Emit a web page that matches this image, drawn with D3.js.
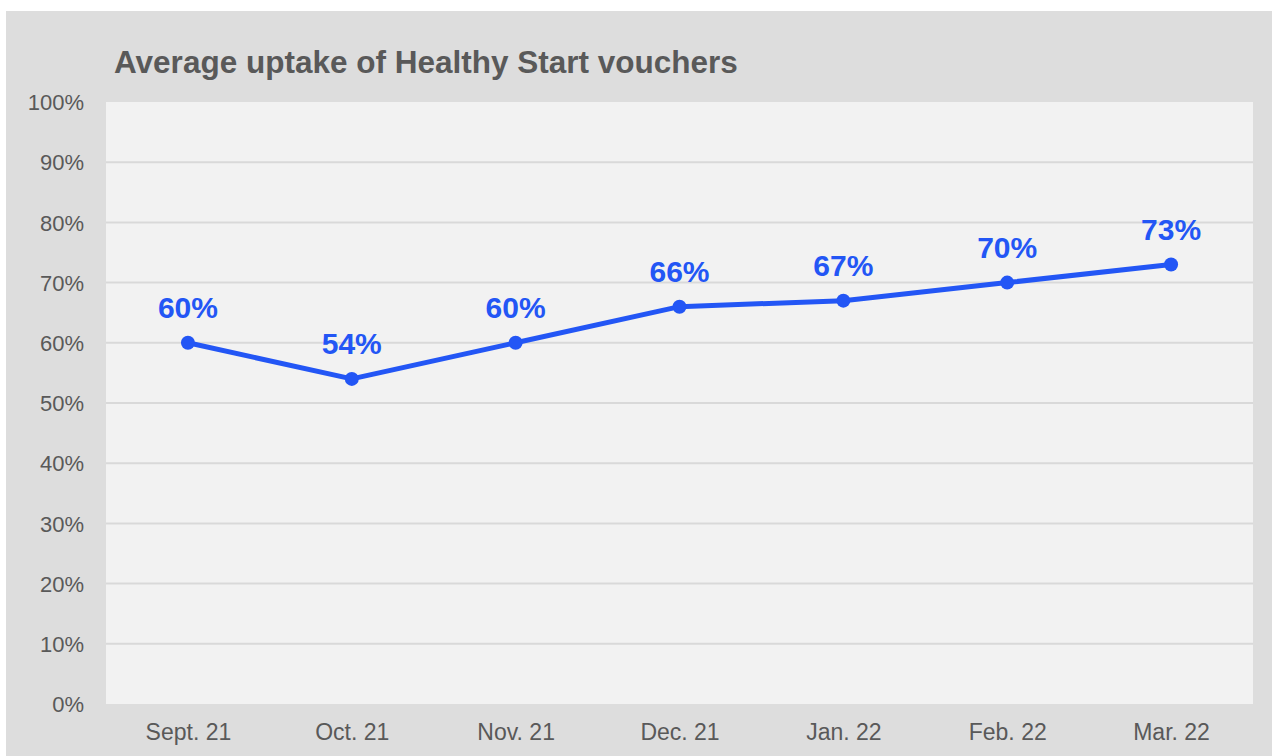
<!DOCTYPE html>
<html><head><meta charset="utf-8">
<script src="https://cdn.jsdelivr.net/npm/d3@7"></script>
<style>
html,body{margin:0;padding:0;background:#fff;}
svg{display:block;font-family:"Liberation Sans",Arial,sans-serif;}
</style></head>
<body>
<svg id="chart" width="1272" height="756"></svg>
<script>
const title = "Average uptake of Healthy Start vouchers";
const categories = ["Sept. 21","Oct. 21","Nov. 21","Dec. 21","Jan. 22","Feb. 22","Mar. 22"];
const values = [60, 54, 60, 66, 67, 70, 73];
const yTicks = [0,10,20,30,40,50,60,70,80,90,100];

const svg = d3.select("#chart");
const W = 1272, H = 756;
const m = {left:106, right:1253, top:102, bottom:704};
const textCol = "#595959", blue = "#2356f5";

svg.append("rect").attr("x",6).attr("y",11).attr("width",W-6).attr("height",H-11).attr("fill","#dddddd");
svg.append("rect").attr("x",m.left).attr("y",m.top).attr("width",m.right-m.left).attr("height",m.bottom-m.top).attr("fill","#f2f2f2");

const x = d3.scalePoint().domain(categories).range([m.left,m.right]).padding(0.5);
const y = d3.scaleLinear().domain([0,100]).range([m.bottom,m.top]);

// grid
svg.append("g").selectAll("line").data(yTicks.filter(t=>t>0&&t<100)).join("line")
  .attr("x1",m.left).attr("x2",m.right).attr("y1",d=>y(d)).attr("y2",d=>y(d))
  .attr("stroke","#d9d9d9").attr("stroke-width",2);

// y axis
const yAxis = d3.axisLeft(y).tickValues(yTicks).tickFormat(d=>d+"%").tickSize(0).tickPadding(0);
const gy = svg.append("g").attr("transform",`translate(84,0)`).call(yAxis);
gy.select(".domain").remove();
gy.selectAll("text").attr("fill",textCol).style("font-size","22px").attr("dy","0.35em");

// x axis
const xAxis = d3.axisBottom(x).tickSize(0).tickPadding(0);
const gx = svg.append("g").attr("transform",`translate(0,740)`).call(xAxis);
gx.select(".domain").remove();
gx.selectAll("text").attr("fill",textCol).style("font-size","23px").attr("dy","0");

// title
svg.append("text").attr("x",114).attr("y",73).text(title)
  .attr("fill",textCol).style("font-size","31.5px").style("font-weight","bold");

// line
const data = categories.map((c,i)=>({c, v:values[i]}));
svg.append("path").datum(data)
  .attr("d", d3.line().x(d=>x(d.c)).y(d=>y(d.v)))
  .attr("fill","none").attr("stroke",blue).attr("stroke-width",5).attr("stroke-linejoin","round");
svg.append("g").selectAll("circle").data(data).join("circle")
  .attr("cx",d=>x(d.c)).attr("cy",d=>y(d.v)).attr("r",7).attr("fill",blue);
svg.append("g").selectAll("text").data(data).join("text")
  .attr("x",d=>x(d.c)).attr("y",d=>y(d.v)-25).attr("text-anchor","middle")
  .attr("fill",blue).style("font-size","30px").style("font-weight","bold")
  .text(d=>d.v+"%");
</script>
</body></html>
